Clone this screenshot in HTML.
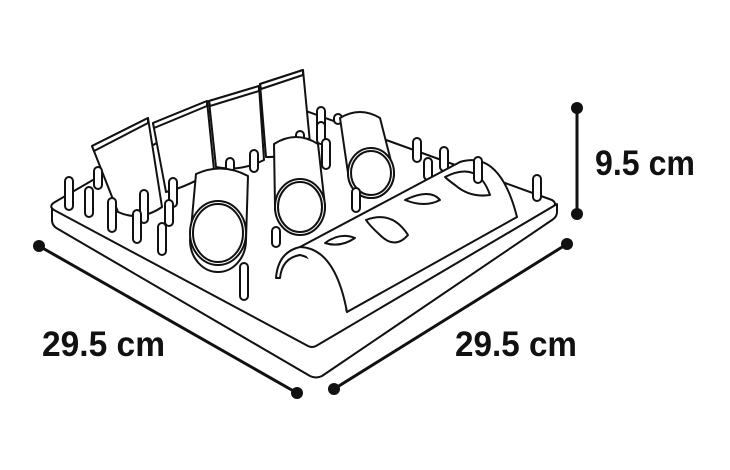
<!DOCTYPE html>
<html><head><meta charset="utf-8"><style>
html,body{margin:0;padding:0;background:#fff;width:730px;height:470px;overflow:hidden}
svg{display:block}
text{font-family:"Liberation Sans",sans-serif;fill:#111;font-weight:bold}
</style></head><body>
<svg width="730" height="470" viewBox="0 0 730 470" xmlns="http://www.w3.org/2000/svg">
<g fill="#fff" stroke="#111" stroke-width="2" stroke-linejoin="round" stroke-linecap="round">
<!-- tray -->
<path d="M52,206 L52,220 Q52,226 58,229 L310,376 Q316,379 322,376 L552,220 Q557,217 557,212 L557,204 L312,346 Z"/>
<path d="M55,202 L248,90 L552,200 Q558,204 552,207 L316,346 Q312,348 308,346 L54,210 Q48,206 55,202 Z"/>
<!-- back cups -->
<path d="M92,146 L148,118 L162,207 Q140,222 118,212 Z"/>
<path d="M92,146 L148,118 L148,123 L94,151 Z"/>
<path d="M153,123 L207,101 L214,170 Q190,186 166,192 Z"/>
<path d="M153,123 L207,101 L207,106 L154,128 Z"/>
<path d="M209,101 L259,86 L264,160 Q240,172 216,167 Z"/>
<path d="M209,101 L259,86 L259,91 L210,106 Z"/>
<path d="M260,84 L303,70 L310,143 Q288,158 266,157 Z"/>
<path d="M260,84 L303,70 L303,75 L261,89 Z"/>
<!-- pegs -->
<g>
<rect x="65" y="177" width="8" height="33" rx="4"/>
<rect x="94" y="167" width="8" height="22" rx="4"/>
<rect x="85" y="187" width="8" height="30" rx="4"/>
<rect x="108" y="198" width="8" height="34" rx="4"/>
<rect x="140" y="190" width="8" height="33" rx="4"/>
<rect x="133" y="210" width="8" height="33" rx="4"/>
<rect x="169" y="178" width="8" height="29" rx="4"/>
<rect x="165" y="200" width="8" height="26" rx="4"/>
<rect x="158" y="223" width="8" height="32" rx="4"/>
<rect x="226" y="158" width="8" height="14" rx="4"/>
<rect x="250" y="150" width="8" height="22" rx="4"/>
<rect x="296" y="131" width="8" height="12" rx="4"/>
<rect x="317" y="107" width="8" height="24" rx="4"/>
<rect x="317" y="122" width="8" height="22" rx="4"/>
<rect x="322" y="139" width="8" height="30" rx="4"/>
<rect x="334" y="114" width="8" height="10" rx="4"/>
<rect x="413" y="138" width="8" height="24" rx="4"/>
<rect x="424" y="158" width="8" height="22" rx="4"/>
<rect x="440" y="147" width="8" height="24" rx="4"/>
<rect x="533" y="175" width="8" height="26" rx="4"/>
</g>
<!-- front cylinders -->
<path d="M196,174 Q222,162 248,176 L246,240 A28,32 0 0 1 190,240 Z"/>
<ellipse cx="218" cy="233" rx="28" ry="32"/>
<ellipse cx="218" cy="233" rx="25" ry="29"/>
<rect x="272" y="227" width="8" height="20" rx="4"/>
<path d="M274,144 Q296,130 318,144 L325,206 A25,28 0 0 1 275,206 Z"/>
<ellipse cx="300" cy="207" rx="25" ry="28"/>
<ellipse cx="300" cy="207" rx="22" ry="25"/>
<path d="M340,118 Q360,106 380,118 L394,173 A23,25 0 0 1 348,173 Z"/>
<ellipse cx="371" cy="173" rx="23" ry="25"/>
<ellipse cx="371" cy="173" rx="20" ry="22"/>
<rect x="352" y="188" width="8" height="24" rx="4"/>
<rect x="240" y="263" width="8" height="37" rx="4"/>
<!-- tunnel -->
<path d="M276,278 Q278,252 300,247 L460,162 Q500,150 517,217 L347,312 Q330,262 300,255 Q282,258 280,278 Z"/>
<path d="M300,247 Q335,248 347,312"/>
<path d="M325,243 Q340,232 355,238 Q340,248 325,243 Z"/>
<path d="M366,220 Q392,210 408,235 Q395,250 380,235 Q370,226 366,220 Z"/>
<path d="M405,200 Q430,188 440,200 Q425,208 405,200 Z"/>
<path d="M445,177 Q478,160 490,195 Q470,198 455,185 Q448,180 445,177 Z"/>
<rect x="474" y="157" width="8" height="26" rx="4"/>
</g>
<!-- dimension lines -->
<g stroke="#111" stroke-width="3">
<line x1="39" y1="246" x2="297" y2="393"/>
<line x1="334" y1="389" x2="567" y2="244"/>
<line x1="577" y1="108" x2="577" y2="214"/>
</g>
<g fill="#111">
<circle cx="39" cy="246" r="6"/><circle cx="297" cy="393" r="6"/>
<circle cx="334" cy="389" r="6"/><circle cx="567" cy="244" r="6"/>
<circle cx="577" cy="108" r="6"/><circle cx="577" cy="214" r="6"/>
</g>
<text x="42" y="356" font-size="35" textLength="123" lengthAdjust="spacingAndGlyphs">29.5 cm</text>
<text x="455" y="356" font-size="35" textLength="122" lengthAdjust="spacingAndGlyphs">29.5 cm</text>
<text x="595" y="175" font-size="35" textLength="100" lengthAdjust="spacingAndGlyphs">9.5 cm</text>
</svg>
</body></html>
